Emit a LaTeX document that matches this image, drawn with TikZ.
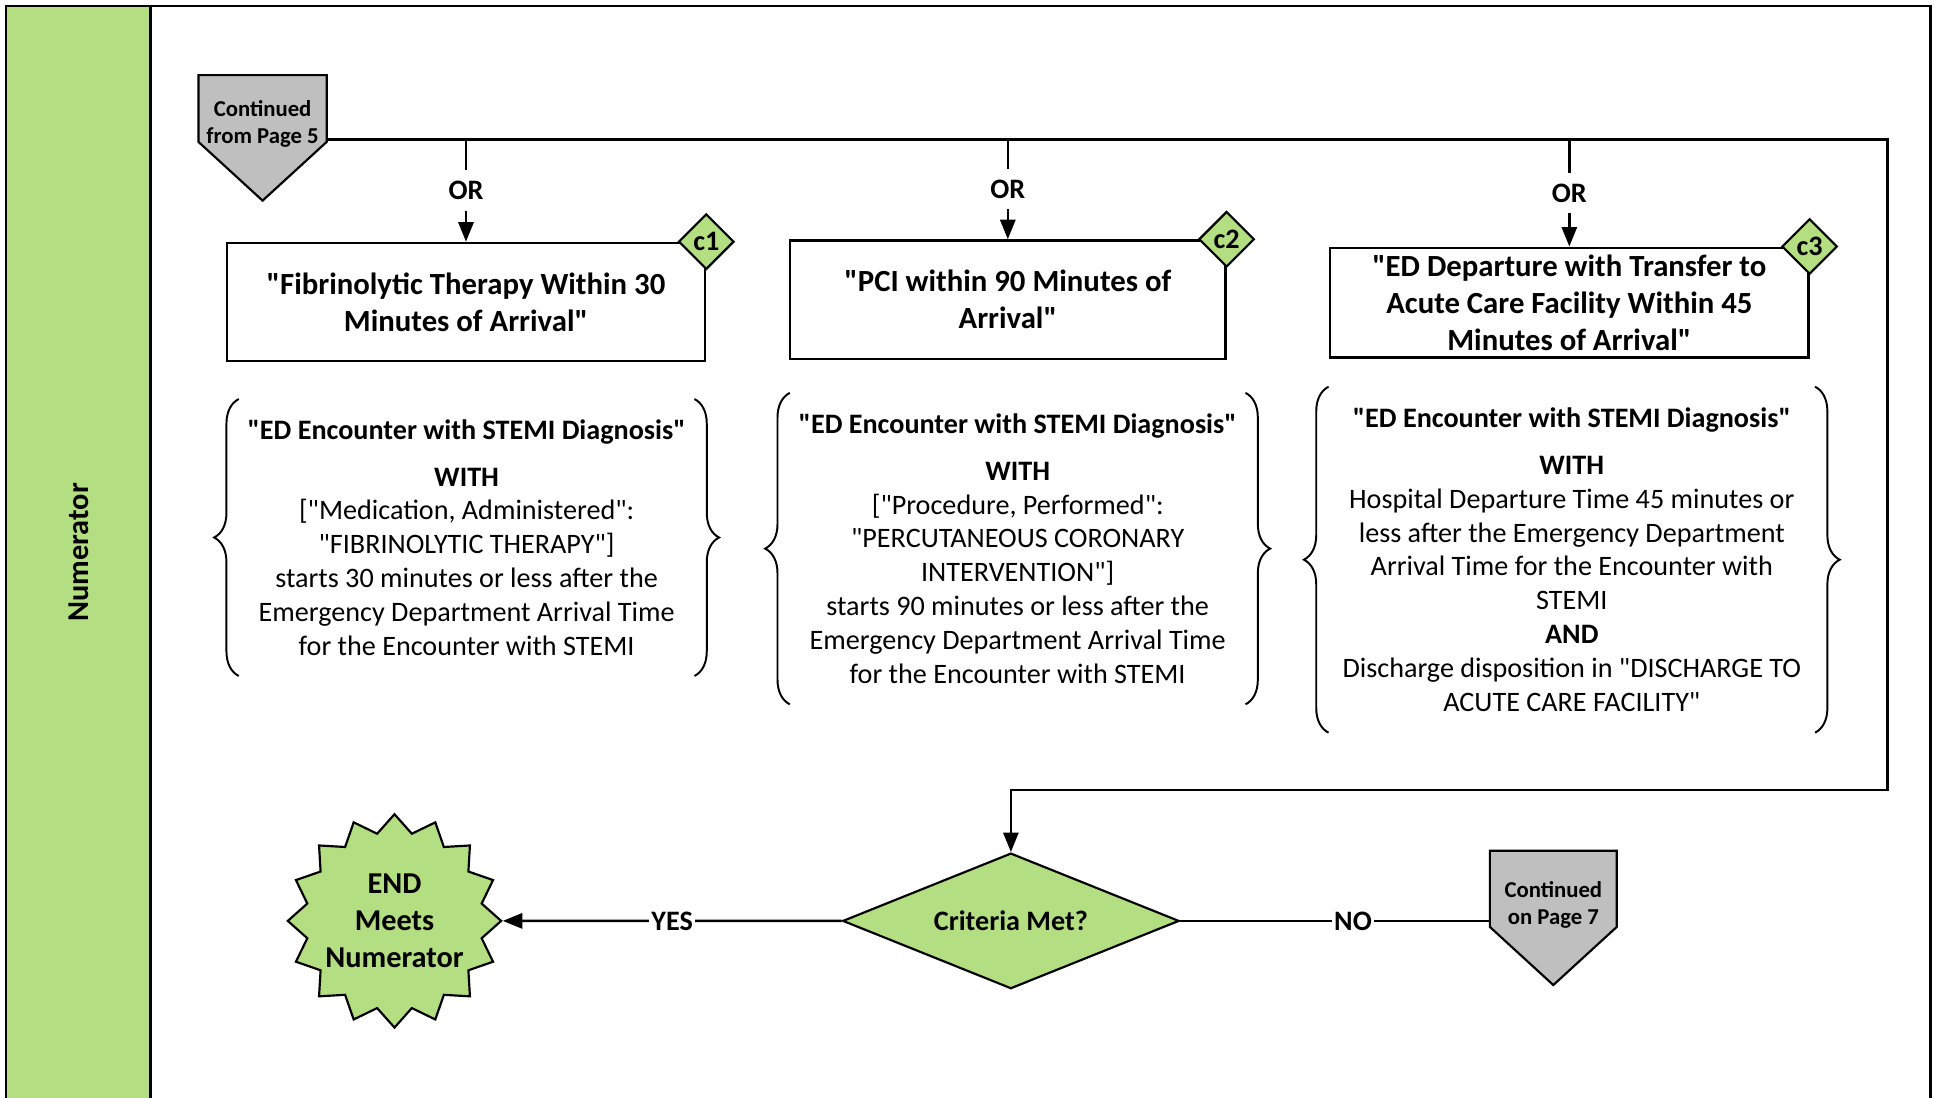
\documentclass[tikz,border=0pt]{standalone}
\usepackage{fontspec}
\setmainfont{Carlito}[Ligatures=TeXOff]
\usetikzlibrary{shapes.geometric,shapes.symbols,arrows.meta,decorations.pathreplacing}
\definecolor{numgreen}{RGB}{179,222,129}
\definecolor{pagegray}{RGB}{191,191,191}
\newcommand{\pagetext}[1]{\raisebox{-10.3pt}[0pt][0pt]{\begin{tabular}{@{}c@{}}#1\end{tabular}}}
\tikzset{
  flowline/.style={line width=1.1pt},
  flowarrow/.style={flowline, -{Triangle[length=9pt,width=7pt]}},
  critbox/.style={draw, line width=1.1pt, align=center, font=\fontsize{14.2}{17}\selectfont\bfseries},
  tagdiamond/.style={diamond, draw, fill=numgreen, line width=1pt, minimum size=0.9cm, inner sep=0pt, font=\fontsize{13}{15}\selectfont\bfseries},
  ortext/.style={fill=white, inner xsep=1pt, inner ysep=5pt, font=\fontsize{13}{15}\selectfont\bfseries},
  logictext/.style={align=center, inner sep=0pt, font=\fontsize{13}{15.6}\selectfont},
  curly/.style={line width=0.9pt, decorate, decoration={brace, amplitude=0.4cm}},
  pageconn/.style={signal, signal to=south, signal from=nowhere, signal pointer angle=95, draw, fill=pagegray, line width=1pt, inner sep=0pt, font=\fontsize{10.5}{12.5}\selectfont\bfseries},
}
\begin{document}
\begin{tikzpicture}[x=0.02cm, y=-0.02cm]
\useasboundingbox (0,0) rectangle (1568,890);
% lane
\fill[numgreen] (5,5) rectangle (122,900);
\draw[line width=1.2pt] (5,900) -- (5,5) -- (1566,5) -- (1566,900);
\draw[line width=1.2pt] (122,5) -- (122,900);
\node[rotate=90, font=\fontsize{14}{17}\selectfont\bfseries] (lane) at (64,448) {Numerator};

\node[pageconn, minimum width=2.08cm, minimum height=1.92cm] (from5) at (213,88) {\pagetext{Continued\\from Page 5}};

\node[critbox, minimum width=7.76cm, minimum height=1.92cm] (fib) at (378,245) {"Fibrinolytic Therapy Within 30\\Minutes of Arrival"};
\node[critbox, minimum width=7.06cm, minimum height=1.92cm] (pci) at (817.5,243) {"PCI within 90 Minutes of\\Arrival"};
\node[critbox, minimum width=7.76cm, minimum height=1.78cm] (edd) at (1273,245.5) {"ED Departure with Transfer to\\Acute Care Facility Within 45\\Minutes of Arrival"};
\node[tagdiamond] (c1) at (fib.north east) {c1};
\node[tagdiamond] (c2) at (pci.north east) {c2};
\node[tagdiamond] (c3) at (edd.north east) {c3};

\node[logictext, minimum width=7.38cm, minimum height=4.48cm] (enc1) at (378.5,436) {\textbf{"ED Encounter with STEMI Diagnosis"}\\[6pt]
\textbf{WITH}\\
{}["Medication, Administered":\\
"FIBRINOLYTIC THERAPY"]\\
starts 30 minutes or less after the\\
Emergency Department Arrival Time\\
for the Encounter with STEMI};
\node[logictext, minimum width=7.38cm, minimum height=5.04cm] (enc2) at (825.5,445) {\textbf{"ED Encounter with STEMI Diagnosis"}\\[6pt]
\textbf{WITH}\\
{}["Procedure, Performed":\\
"PERCUTANEOUS CORONARY\\
INTERVENTION"]\\
starts 90 minutes or less after the\\
Emergency Department Arrival Time\\
for the Encounter with STEMI};
\node[logictext, minimum width=7.88cm, minimum height=5.6cm] (enc3) at (1275,454) {\textbf{"ED Encounter with STEMI Diagnosis"}\\[6pt]
\textbf{WITH}\\
Hospital Departure Time 45 minutes or\\
less after the Emergency Department\\
Arrival Time for the Encounter with\\
STEMI\\
\textbf{AND}\\
Discharge disposition in "DISCHARGE TO\\
ACUTE CARE FACILITY"};
\draw[curly] (enc1.south west) -- (enc1.north west);
\draw[curly] (enc1.north east) -- (enc1.south east);
\draw[curly] (enc2.south west) -- (enc2.north west);
\draw[curly] (enc2.north east) -- (enc2.south east);
\draw[curly] (enc3.south west) -- (enc3.north west);
\draw[curly] (enc3.north east) -- (enc3.south east);

\node[diamond, aspect=2.5, draw, fill=numgreen, line width=1pt, minimum width=5.46cm, minimum height=2.2cm, inner sep=0pt, font=\fontsize{13}{15}\selectfont\bfseries] (crit) at (820,747) {Criteria Met?};
\node[star, star points=16, star point ratio=1.2, draw, fill=numgreen, line width=1pt, minimum size=3.0cm, inner sep=-2.9pt, align=center, font=\fontsize{14}{17}\selectfont\bfseries] (endn) at (320,747) {END\\Meets\\Numerator};
\node[pageconn, minimum width=2.06cm, minimum height=1.96cm] (to7) at (1260,721) {\pagetext{Continued\\on Page 7}};

% connectors
\coordinate (busL) at (265,113);
\coordinate (busR) at (1531,113);
\coordinate (busB) at (1531,641);
\draw[flowarrow] (busL) -- (busR) -- (busB) -| (crit.north);
\draw[flowarrow] (fib.north |- busL) -- node[ortext]{OR} (fib.north);
\draw[flowarrow] (pci.north |- busL) -- node[ortext]{OR} (pci.north);
\draw[flowarrow] (edd.north |- busL) -- node[ortext]{OR} (edd.north);
\draw[flowarrow] (crit.west) -- node[ortext]{YES} (endn.east);
\draw[flowline] (crit.east) -- node[pos=0.56, ortext]{NO} (crit.east -| to7.west);
\end{tikzpicture}
\end{document}
